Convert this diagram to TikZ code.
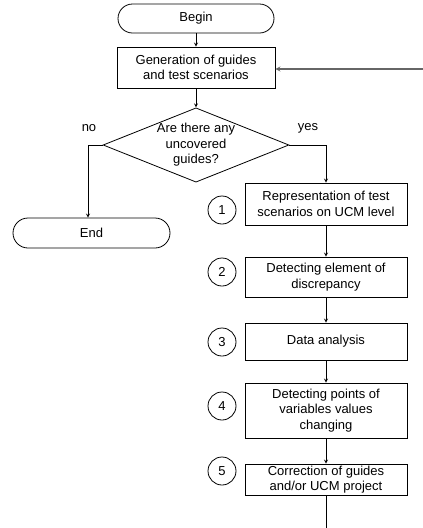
\documentclass[tikz,border=0pt]{standalone}
\usepackage{fontspec}
\setmainfont{Liberation Sans}
\usetikzlibrary{arrows}
\usetikzlibrary{shapes.geometric}

\begin{document}
\begin{tikzpicture}[x=1pt,y=-1pt,line width=0.8pt,>=stealth,
    every node/.style={font=\fontsize{13}{15.5}\selectfont},
    terminal/.style={draw,rectangle,rounded corners=14.5pt,minimum width=156pt,minimum height=29pt,inner sep=0pt},
    process/.style={draw,rectangle,align=center,minimum width=162pt,inner sep=0pt},
    stepno/.style={draw,circle,minimum size=28pt,inner sep=0pt},
    decision/.style={draw,diamond,aspect=2.5,align=center,minimum width=185pt,minimum height=74pt,inner sep=0pt}]
    \def\cx{326}
    \def\nx{222}
    \useasboundingbox (0,0) rectangle (423,528);
    \node[terminal] (begin) at (196,18.5) {Begin};
    \node[process,minimum width=158pt,minimum height=41pt] (gen) at (196,67.5) {Generation of guides\\and test scenarios};
    \node[decision] (dec) at (196,145) {Are there any\\uncovered\\guides?};
    \node[terminal,minimum width=157pt,minimum height=30pt,rounded corners=15pt] (end) at (91.5,233) {End};
    \node (no) at (89,128) {no};
    \node (yes) at (308,128) {yes};

    \node[process,minimum height=42pt] (s1) at (\cx,204) {Representation of test\\scenarios on UCM level};
    \node[process,minimum height=40pt] (s2) at (\cx,277) {Detecting element of\\discrepancy};
    \node[process,minimum height=37pt] (s3) at (\cx,341.5) {Data analysis};
    \node[process,minimum height=55pt] (s4) at (\cx,410.5) {Detecting points of\\variables values\\changing};
    \node[process,minimum height=31pt] (s5) at (\cx,479.5) {Correction of guides\\and/or UCM project};

    \node[stepno] (n1) at (\nx,210) {1};
    \node[stepno] (n2) at (\nx,272) {2};
    \node[stepno] (n3) at (\nx,342) {3};
    \node[stepno] (n4) at (\nx,406) {4};
    \node[stepno] (n5) at (\nx,471) {5};

    \coordinate (back) at (423,69);
    \coordinate (out) at (\cx,528);

    \draw[->] (begin) -- (gen);
    \draw[->] (gen) -- (dec);
    \draw[->] (dec.west) -| (88,0 |- end.north);
    \draw[->] (dec.east) -| (s1.north);
    \draw[->] (s1) -- (s2);
    \draw[->] (s2) -- (s3);
    \draw[->] (s3) -- (s4);
    \draw[->] (s4) -- (s5);
    \draw (s5) -- (out);
    \draw[->,gray!80!black,line width=1.2pt] (back) -- (gen.east |- back);

\end{tikzpicture}
\end{document}
